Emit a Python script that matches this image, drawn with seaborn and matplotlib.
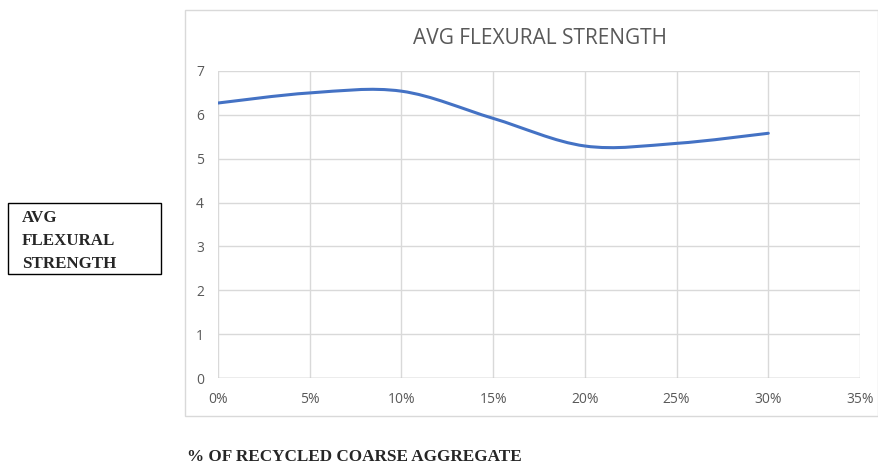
import numpy as np
import matplotlib
matplotlib.use("Agg")
import matplotlib.pyplot as plt
from matplotlib.path import Path
from matplotlib.patches import PathPatch, Rectangle
import seaborn as sns

# % recycled coarse aggregate vs avg flexural strength
pct = [0, 5, 10, 15, 20, 25, 30]
strength = [6.27, 6.50, 6.54, 5.92, 5.29, 5.35, 5.58]
x_ticks = [0, 5, 10, 15, 20, 25, 30, 35]
y_ticks = [0, 1, 2, 3, 4, 5, 6, 7]

sns.set_theme(style="white")
plt.rcParams['font.family'] = ['Open Sans', 'DejaVu Sans']

fig = plt.figure(figsize=(8.79, 4.66), dpi=100)
ax = fig.add_axes([218/879, 1-378/466, (860-218)/879, (378-71)/466])

# chart frame like excel
fig.patches.append(Rectangle((185/879, 1-416/466), (878-185)/879, (416-10)/466,
                             transform=fig.transFigure, fill=False,
                             edgecolor="#d9d9d9", linewidth=1))

# register data with seaborn (no visible line), smooth curve drawn below
sns.lineplot(x=pct, y=strength, ax=ax, linewidth=0)

# excel-style smoothed line: bezier segments with catmull-rom control points
xs = np.array(pct, dtype=float)
ys = np.array(strength, dtype=float)
verts = [(xs[0], ys[0])]
codes = [Path.MOVETO]
n = len(xs)
for i in range(n - 1):
    p0 = (xs[max(i-1, 0)], ys[max(i-1, 0)])
    p1 = (xs[i], ys[i])
    p2 = (xs[i+1], ys[i+1])
    p3 = (xs[min(i+2, n-1)], ys[min(i+2, n-1)])
    c1 = (p1[0] + (p2[0]-p0[0])/6, p1[1] + (p2[1]-p0[1])/6)
    c2 = (p2[0] - (p3[0]-p1[0])/6, p2[1] - (p3[1]-p1[1])/6)
    verts += [c1, c2, p2]
    codes += [Path.CURVE4]*3
ax.add_patch(PathPatch(Path(verts, codes), fill=False, edgecolor="#4472C4",
                       linewidth=2.2, capstyle="round"))

ax.set_xlim(0, 35)
ax.set_ylim(0, 7)
ax.set_xticks(x_ticks)
ax.set_xticklabels([f"{v}%" for v in x_ticks])
ax.set_yticks(y_ticks)
ax.grid(True, color="#d9d9d9", linewidth=1)
for s in ax.spines.values():
    s.set_visible(False)
ax.axhline(0, color="#bfbfbf", linewidth=1)
ax.tick_params(axis="both", colors="#595959", labelsize=10, length=0)
ax.tick_params(axis="x", pad=10)
ax.tick_params(axis="y", pad=10)
ax.set_xlabel("")
ax.set_ylabel("")

fig.text(540/879, 1-38/466, "AVG FLEXURAL STRENGTH", ha="center", va="center",
         fontsize=15, color="#595959")

# side label box
fig.patches.append(Rectangle((8/879, 1-274/466), (161-8)/879, (274-203)/466,
                             transform=fig.transFigure, fill=False,
                             edgecolor="black", linewidth=1))
fig.text(22/879, 1-241/466, "AVG\nFLEXURAL\nSTRENGTH", ha="left", va="center",
         fontsize=12.2, fontweight="bold", family="Liberation Serif",
         linespacing=1.58)

fig.text(187/879, 1-457/466, "% OF RECYCLED COARSE AGGREGATE", ha="left",
         va="center", fontsize=12.3, fontweight="bold", family="Liberation Serif")

fig.savefig("out.png", dpi=100)
